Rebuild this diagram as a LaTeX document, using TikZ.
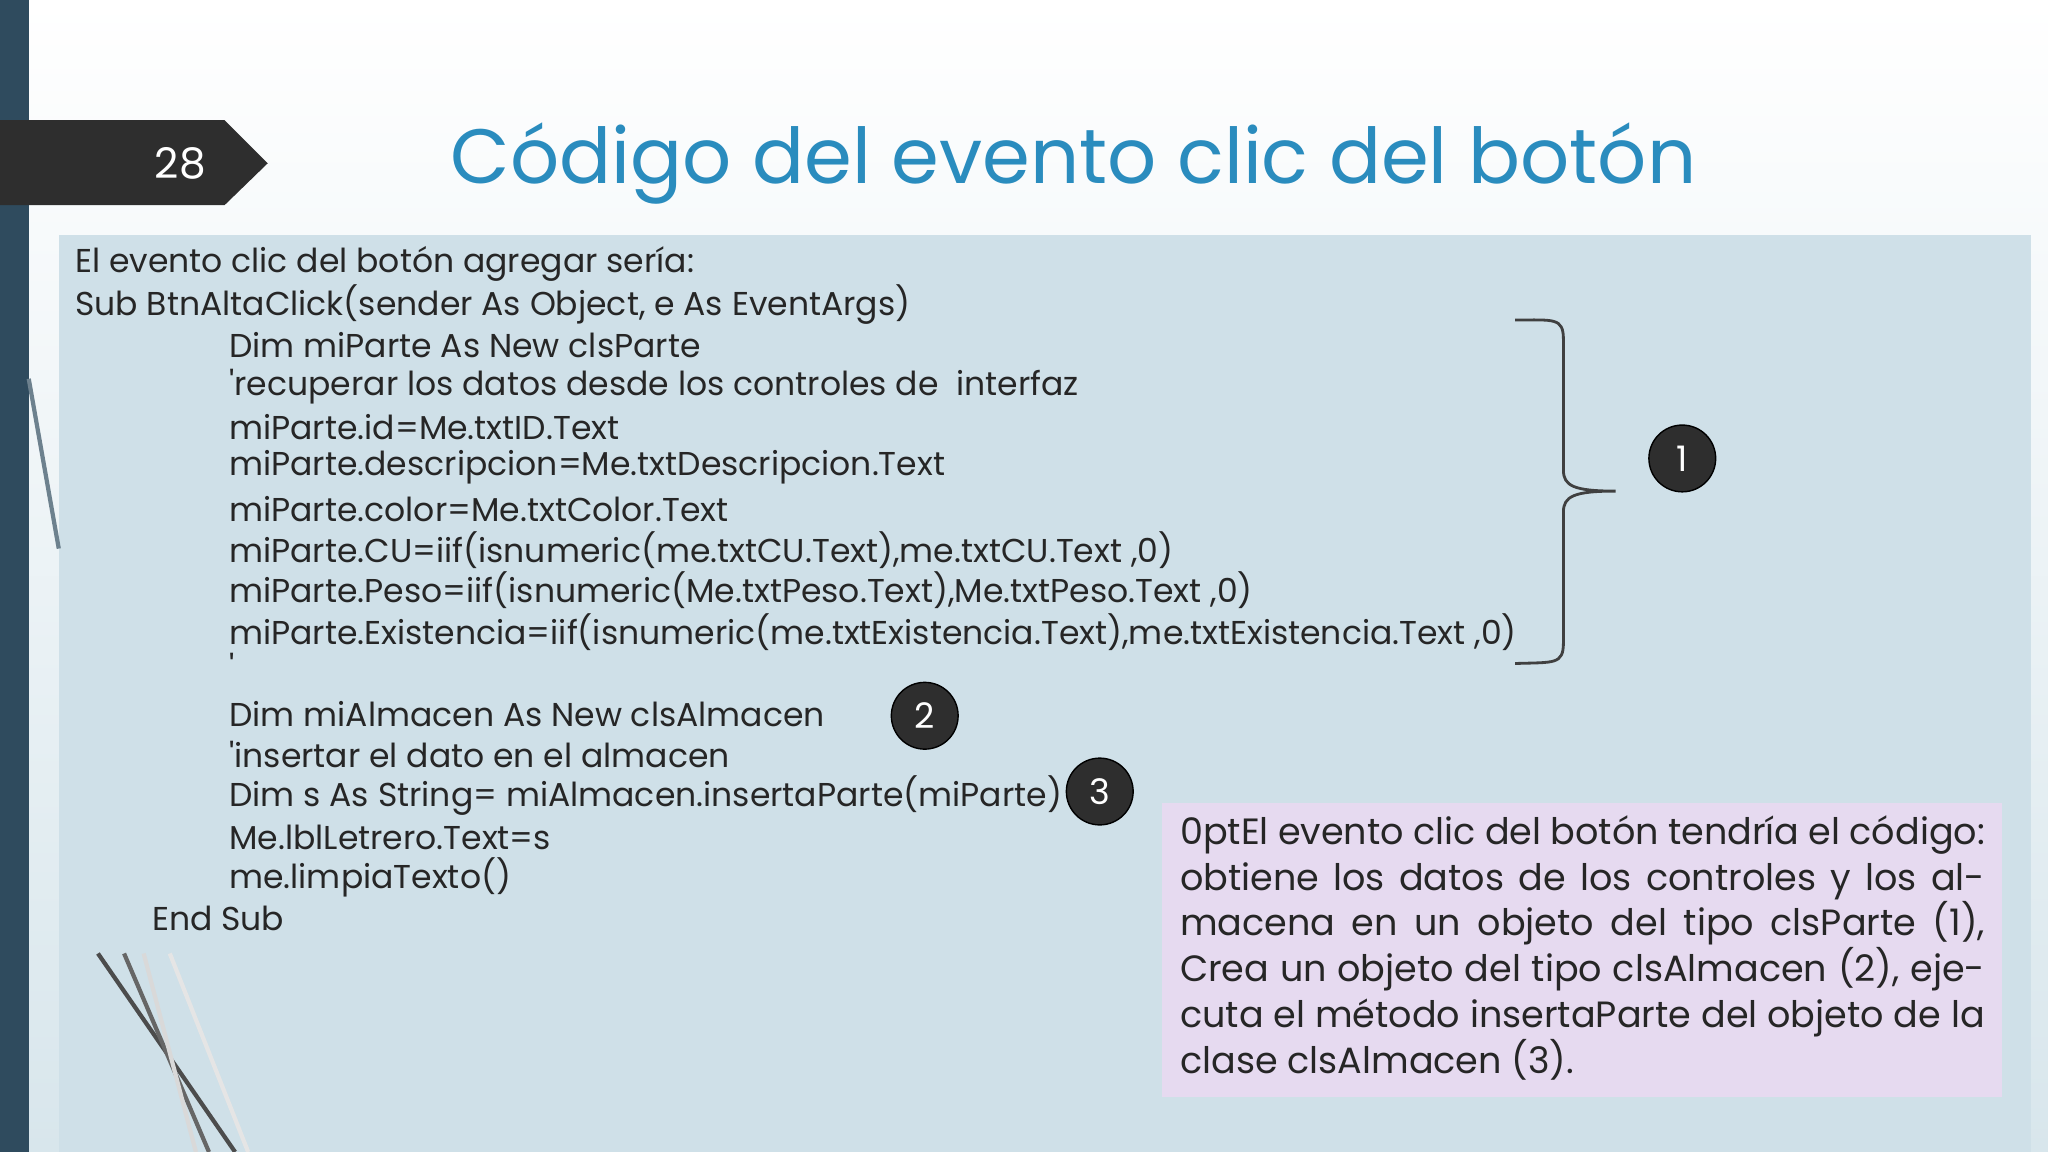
\documentclass[tikz,border=0pt]{standalone}
\usepackage{fontspec}
\setmainfont{Poppins}
\definecolor{bodybg}{HTML}{CFE0E8}
\definecolor{outerbg}{HTML}{D8E6EC}
\definecolor{barc}{HTML}{2F4B5E}
\definecolor{titlec}{HTML}{2A8CBE}
\definecolor{descbg}{HTML}{E6DAF0}
\begin{document}
\begin{tikzpicture}[x=0.01306cm,y=-0.01306cm,
  code/.style={anchor=west,inner sep=0pt,font=\fontsize{9.4}{11}\selectfont,text=black!85},
  num/.style={circle,fill=black!82,draw=black,minimum size=19pt,inner sep=0pt,text=white,font=\fontsize{10}{12}\selectfont}]
\useasboundingbox (0,0) rectangle (1568,882);
\fill[white] (0,0) rectangle (1568,882);
\shade[top color=white,bottom color=outerbg] (22,0) rectangle (1568,882);
\fill[bodybg] (45,180) rectangle (1555,882);
\fill[barc] (0,0) rectangle (22,882);
\foreach \a/\b/\c in {75/180/black!70,95/160/black!60,110/150/white!70!gray,130/190/white!80!gray}
  \draw[\c,line width=1.2] (\a,730) -- (\b,882);
\draw[barc!70,line width=1.2] (22,290) -- (45,420);
\fill[black!82] (0,92) -- (172,92) -- (205,125) -- (172,157) -- (0,157) -- cycle;
\node[text=white,font=\fontsize{12}{14}\selectfont] (num) at (138,125) {28};
\node[text=titlec,font=\fontsize{21.9}{26}\selectfont] (title) at (822,125) {Código del evento clic del botón};
\node[code] (l1) at (57,202) {El evento clic del botón agregar sería:};
\node[code] (l2) at (57,233) {Sub BtnAltaClick(sender As Object, e As EventArgs)};
\node[code] (l3) at (175,264) {Dim miParte As New clsParte};
\node[code] (l4) at (175,296) {\textquotesingle recuperar los datos desde los controles de\ \ interfaz};
\node[code] (l5) at (175,327) {miParte.id=Me.txtID.Text};
\node[code] (l6) at (175,358) {miParte.descripcion=Me.txtDescripcion.Text};
\node[code] (l7) at (175,390) {miParte.color=Me.txtColor.Text};
\node[code] (l8) at (175,421) {miParte.CU=iif(isnumeric(me.txtCU.Text),me.txtCU.Text ,0)};
\node[code] (l9) at (175,452) {miParte.Peso=iif(isnumeric(Me.txtPeso.Text),Me.txtPeso.Text ,0)};
\node[code] (l10) at (175,484) {miParte.Existencia=iif(isnumeric(me.txtExistencia.Text),me.txtExistencia.Text ,0)};
\node[code] (l11) at (175,510) {\textquotesingle};
\node[code] (l12) at (175,547) {Dim miAlmacen As New clsAlmacen};
\node[code] (l13) at (175,578) {\textquotesingle insertar el dato en el almacen};
\node[code] (l14) at (175,609) {Dim s As String= miAlmacen.insertaParte(miParte)};
\node[code] (l15) at (175,641) {Me.lblLetrero.Text=s};
\node[code] (l16) at (175,672) {me.limpiaTexto()};
\node[code] (l17) at (116,703) {End Sub};
\draw[black!75,line width=0.8] (1160,245) .. controls (1190,245) and (1197,243) .. (1197,260) -- (1197,360) .. controls (1197,372) and (1205,376) .. (1237,376) .. controls (1205,376) and (1197,380) .. (1197,392) -- (1197,492) .. controls (1197,509) and (1190,507) .. (1160,508);
\node[num] (c1) at (1288,351) {1};
\node[num] (c2) at (708,548) {2};
\node[num] (c3) at (842,606) {3};
\fill[descbg] (890,615) rectangle (1533,840);
\node[anchor=north west,inner sep=0pt,text width=229pt,align=justify,font=\fontsize{10.4}{13}\selectfont\hyphenpenalty=10000\exhyphenpenalty=10000,text=black!85] (desc) at (903,624)
{El evento clic del botón tendría el código: obtiene los datos de los controles y los almacena en un objeto del tipo clsParte (1), Crea un objeto del tipo clsAlmacen (2), ejecuta el método insertaParte del objeto de la clase clsAlmacen (3).};
\end{tikzpicture}
\end{document}
